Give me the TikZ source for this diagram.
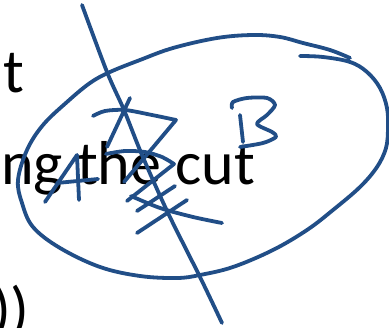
\documentclass[tikz,border=0pt]{standalone}
\usepackage{fontspec}
\setmainfont{Carlito}
\definecolor{inkblue}{RGB}{33,78,135}
\begin{document}
\begin{tikzpicture}[x=1pt,y=-1pt,
  ink/.style={draw=inkblue, line width=3.8pt, line cap=round, line join=round},
  slide/.style={anchor=base east, inner sep=0pt, font=\fontsize{62}{74}\selectfont}]
\useasboundingbox (0,0) rectangle (389,328);
\clip (0,0) rectangle (389,328);
% slide text
\node[slide] (l1) at (24,93) {t};
\node[slide] (l2) at (255,185) {ng the cut};
\node[slide] (l3) at (30,331) {))};
% ellipse (region)
\draw[ink] plot[smooth, tension=0.6] coordinates {(300,56) (323,57) (350,62) (367,72) (380,88) (387,108) (388,128) (386,148) (377,167) (360,187) (333,210) (307,230) (273,250) (233,267) (200,275) (177,278) (140,276) (100,267) (60,248) (33,227) (22,203) (18,180) (27,150) (43,125) (67,102) (90,83) (110,72) (140,60) (173,48) (217,38) (253,35) (280,37) (303,43) (330,50) (350,58)};
% cut line
\draw[ink] plot[smooth] coordinates {(82,5) (107,72) (124,110) (142,155) (168,213) (200,277) (222,323)};
% crossing edges
\draw[ink] (130,98) -- (107,147);
\draw[ink] plot[smooth] coordinates {(93,116) (105,111) (125,110) (152,115) (176,120)} -- (124,182);
\draw[ink] plot[smooth] coordinates {(106,154) (125,151) (145,152) (162,157) (174,164)} -- (127,201);
\draw[ink] (175,186) -- (137,211);
\draw[ink] (187,200) -- (137,233);
\draw[ink] plot[smooth] coordinates {(131,196) (160,208) (193,217) (222,223)};
% letter A
\draw[ink] (45,202) -- (77,155) -- (79,200);
\draw[ink] (57,183) -- (98,179);
% letter B
\draw[ink] plot[smooth] coordinates {(232,108) (233,102) (247,98) (267,98) (275,105) (267,115) (257,124) (272,132) (276,137) (263,143) (240,147)};
\draw[ink] (240,115) -- (242,133) -- (243,142);
\end{tikzpicture}
\end{document}
